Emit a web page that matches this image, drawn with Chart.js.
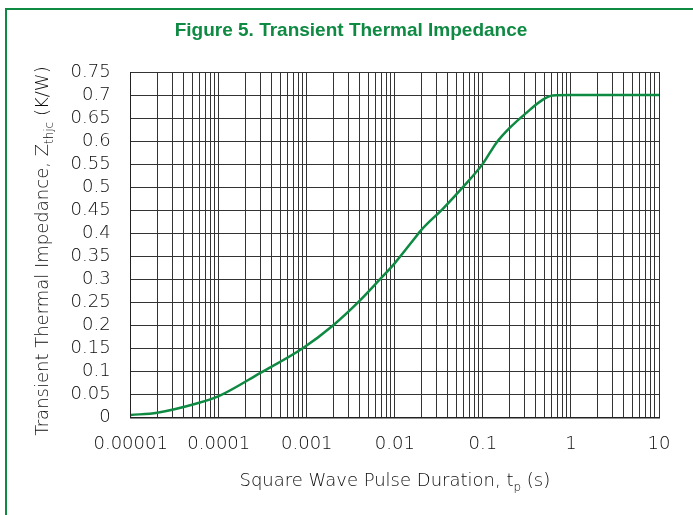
<!DOCTYPE html>
<html>
<head>
<meta charset="utf-8">
<script src="https://cdn.jsdelivr.net/npm/chart.js@4.4.1/dist/chart.umd.min.js"></script>
<style>
  html, body { margin: 0; padding: 0; background: #fff; }
  #wrap { width: 693px; height: 515px; position: relative; }
</style>
</head>
<body>
<div id="wrap"><canvas id="c" width="693" height="515"></canvas></div>
<script>
// pulse duration (s) and Zthjc (K/W)
const pulseDuration = [1e-5, 2e-5, 5.6e-5, 1e-4, 2.94e-4, 9e-4, 2e-3, 3.84e-3, 6.8e-3, 1e-2,
  1.62e-2, 2e-2, 3.55e-2, 6e-2, 0.1, 0.142, 0.2, 0.31, 0.48, 0.62, 1, 10];
const zthjc = [0.005, 0.010, 0.030, 0.046, 0.096, 0.150, 0.200, 0.250, 0.300, 0.335,
  0.385, 0.407, 0.454, 0.501, 0.551, 0.596, 0.628, 0.661, 0.690, 0.699, 0.700, 0.700];

const xDecades = [1e-5, 1e-4, 1e-3, 1e-2, 1e-1, 1, 10];
const xDecadeLabels = ['0.00001', '0.0001', '0.001', '0.01', '0.1', '1', '10'];
const yTicks = [0, 0.05, 0.1, 0.15, 0.2, 0.25, 0.3, 0.35, 0.4, 0.45, 0.5, 0.55, 0.6, 0.65, 0.7, 0.75];

const TITLE = 'Figure 5. Transient Thermal Impedance';
const GREEN = '#0f8a43';
const TEXT = '#0d0d0d';
const FONT = "'DejaVu Sans', sans-serif";

// minor log grid positions 1..9 x each decade
const xGrid = [];
xDecades.forEach((d, i) => {
  if (i === xDecades.length - 1) { xGrid.push(d); return; }
  for (let k = 1; k < 10; k++) xGrid.push(+(k * d).toPrecision(3));
});

const decoration = {
  id: 'decoration',
  beforeDraw(chart) {
    const ctx = chart.ctx;
    ctx.save();
    ctx.strokeStyle = GREEN;
    ctx.lineWidth = 2;
    ctx.beginPath();
    ctx.moveTo(6, 515);
    ctx.lineTo(6, 9);
    ctx.lineTo(693, 9);
    ctx.stroke();
    ctx.restore();
  },
  afterDraw(chart) {
    const ctx = chart.ctx;
    const a = chart.chartArea;
    const big = '200 18px ' + FONT, small = '200 12px ' + FONT;
    function runs(parts) {
      let w = 0;
      parts.forEach(p => { ctx.font = p.sub ? small : big; p.w = ctx.measureText(p.t).width; w += p.w; });
      return w;
    }
    function draw(parts, x0, y0) {
      let x = x0;
      parts.forEach(p => {
        ctx.font = p.sub ? small : big;
        ctx.fillText(p.t, x, y0 + (p.sub ? 5 : 0));
        x += p.w;
      });
    }
    ctx.save();
    // figure title
    ctx.fillStyle = GREEN;
    ctx.font = "bold 19px 'Liberation Sans Narrow', 'Liberation Sans', sans-serif";
    ctx.textAlign = 'center';
    ctx.textBaseline = 'middle';
    ctx.fillText(TITLE, 351, 31);

    ctx.fillStyle = TEXT;
    ctx.textBaseline = 'alphabetic';
    ctx.textAlign = 'left';
    const xt = [{t: 'Square Wave Pulse Duration, t'}, {t: 'p', sub: true}, {t: ' (s)'}];
    const wx = runs(xt);
    draw(xt, (a.left + a.right) / 2 - wx / 2, 486);

    const yt = [{t: 'Transient Thermal Impedance, Z'}, {t: 'thjc', sub: true}, {t: ' (K/W)'}];
    const wy = runs(yt);
    ctx.translate(48, 251);
    ctx.rotate(-Math.PI / 2);
    draw(yt, -wy / 2, 0);
    ctx.restore();
  }
};

new Chart(document.getElementById('c'), {
  type: 'scatter',
  data: {
    datasets: [{
      label: 'Zthjc',
      data: pulseDuration.map((t, i) => ({x: t, y: zthjc[i]})),
      showLine: true,
      borderColor: GREEN,
      borderWidth: 2.5,
      pointRadius: 0,
      cubicInterpolationMode: 'monotone'
    }]
  },
  options: {
    responsive: false,
    animation: false,
    layout: { padding: { top: 72, left: 0, right: 34, bottom: 0 } },
    plugins: {
      legend: { display: false },
      tooltip: { enabled: false }
    },
    scales: {
      x: {
        type: 'logarithmic',
        min: 1e-5,
        max: 10,
        afterBuildTicks: s => { s.ticks = xGrid.map(v => ({value: v})); },
        afterFit: s => { s.height = 97.7; },
        grid: { color: '#333', lineWidth: 1, drawTicks: false },
        border: { color: '#222', width: 1.5 },
        ticks: {
          autoSkip: false,
          maxRotation: 0,
          padding: 16,
          color: TEXT,
          font: { family: FONT, size: 18, weight: 200 },
          callback: v => {
            const i = xDecades.findIndex(d => Math.abs(v / d - 1) < 1e-6);
            return i >= 0 ? xDecadeLabels[i] : '';
          }
        }
      },
      y: {
        min: 0,
        max: 0.75,
        afterBuildTicks: s => { s.ticks = yTicks.map(v => ({value: v})); },
        afterFit: s => { s.width = 130.7; },
        grid: { color: '#333', lineWidth: 1, drawTicks: false },
        border: { color: '#222', width: 1 },
        ticks: {
          autoSkip: false,
          padding: 20,
          color: TEXT,
          font: { family: FONT, size: 18, weight: 200 },
          callback: v => String(+v.toFixed(2))
        }
      }
    }
  },
  plugins: [decoration]
});
</script>
</body>
</html>
